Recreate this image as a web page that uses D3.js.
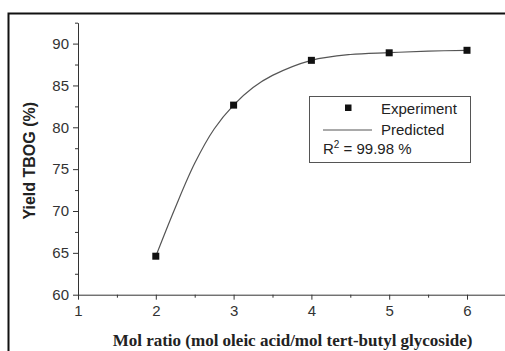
<!DOCTYPE html>
<html>
<head>
<meta charset="utf-8">
<script src="https://cdn.jsdelivr.net/npm/d3@7"></script>
<style>
  body { margin: 0; background: #fff; }
  svg { display: block; }
  .tick text { font-family: "Liberation Sans", Arial, sans-serif; font-size: 15px; fill: #333; }
  .axis path, .axis line { stroke: #333; }
</style>
</head>
<body>
<script>
// experiment points
let expX = [2, 3, 4, 5, 6];
let expY = [64.6, 82.65, 88.0, 88.9, 89.2];

// predicted curve
let predX = [2, 2.25, 2.5, 2.75, 3, 3.25, 3.5, 4, 4.5, 5, 5.5, 6];
let predY = [64.6, 70.4, 75.7, 79.8, 82.65, 84.75, 86.2, 88.0, 88.7, 88.92, 89.1, 89.2];

let xTicks = [1, 2, 3, 4, 5, 6];
let yTicks = [60, 65, 70, 75, 80, 85, 90];

let svgWidth = 505;
let svgHeight = 351;

let svg = d3.select("body")
  .append("svg")
  .attr("width", svgWidth)
  .attr("height", svgHeight);

// outer frame, runs off the right and bottom edge
svg.append("rect")
  .attr("x", 8.5)
  .attr("y", 13.5)
  .attr("width", 520)
  .attr("height", 360)
  .attr("fill", "none")
  .attr("stroke", "#111")
  .attr("stroke-width", 2);

let xScale = d3.scaleLinear()
  .domain([1, 6.5])
  .range([78, 78 + 5.5 * 77.8]);

let yScale = d3.scaleLinear()
  .domain([60, 92.5])
  .range([294.7, 294.7 - 32.5 * 8.37]);

// minor ticks
let xMinor = d3.range(1.5, 6.5, 1);
let yMinor = d3.range(62.5, 93, 5);

let xAxis = svg.append("g")
  .classed("axis", true)
  .attr("transform", `translate(0, ${yScale(60)})`)
  .call(d3.axisBottom(xScale).tickValues(xTicks).tickFormat(d3.format("d"))
    .tickSize(5).tickSizeOuter(0).tickPadding(3));
xAxis.selectAll(".tick text").attr("dy", "0.9em");

svg.append("g")
  .classed("axis", true)
  .attr("transform", `translate(0, ${yScale(60)})`)
  .call(d3.axisBottom(xScale).tickValues(xMinor).tickSize(3).tickFormat(""))
  .select(".domain").remove();

svg.append("g")
  .classed("axis", true)
  .attr("transform", `translate(${xScale(1)}, 0)`)
  .call(d3.axisLeft(yScale).tickValues(yTicks).tickSize(5).tickSizeOuter(0).tickPadding(4));

svg.append("g")
  .classed("axis", true)
  .attr("transform", `translate(${xScale(1)}, 0)`)
  .call(d3.axisLeft(yScale).tickValues(yMinor).tickSize(3).tickFormat(""))
  .select(".domain").remove();

// predicted curve
let predData = predX.map((x, i) => [x, predY[i]]);
let line = d3.line()
  .x(d => xScale(d[0]))
  .y(d => yScale(d[1]))
  .curve(d3.curveCatmullRom.alpha(0.5));

svg.append("path")
  .attr("d", line(predData))
  .attr("fill", "none")
  .attr("stroke", "#555")
  .attr("stroke-width", 1.2);

// experiment markers
svg.selectAll(".pt")
  .data(expX.map((x, i) => [x, expY[i]]))
  .enter()
  .append("rect")
  .attr("class", "pt")
  .attr("x", d => xScale(d[0]) - 3.5)
  .attr("y", d => yScale(d[1]) - 3.5)
  .attr("width", 7)
  .attr("height", 7)
  .attr("fill", "#111");

// legend
let legend = svg.append("g");
legend.append("rect")
  .attr("x", 309.5)
  .attr("y", 96.5)
  .attr("width", 161)
  .attr("height", 66)
  .attr("fill", "#fff")
  .attr("stroke", "#555")
  .attr("stroke-width", 1);
legend.append("rect")
  .attr("x", 345)
  .attr("y", 104.5)
  .attr("width", 6.5)
  .attr("height", 6.5)
  .attr("fill", "#111");
legend.append("text")
  .attr("x", 381)
  .attr("y", 114)
  .style("font-family", "Liberation Sans, Arial, sans-serif")
  .style("font-size", "15px")
  .attr("fill", "#222")
  .text("Experiment");
legend.append("line")
  .attr("x1", 323)
  .attr("x2", 372)
  .attr("y1", 130)
  .attr("y2", 130)
  .attr("stroke", "#555")
  .attr("stroke-width", 1);
legend.append("text")
  .attr("x", 381)
  .attr("y", 135)
  .style("font-family", "Liberation Sans, Arial, sans-serif")
  .style("font-size", "15px")
  .attr("fill", "#222")
  .text("Predicted");
let r2 = legend.append("text")
  .attr("x", 323)
  .attr("y", 154)
  .style("font-family", "Liberation Sans, Arial, sans-serif")
  .style("font-size", "15px")
  .attr("fill", "#222");
r2.append("tspan").text("R");
r2.append("tspan").attr("dy", -6).style("font-size", "10px").text("2");
r2.append("tspan").attr("dy", 6).text(" = 99.98 %");

// axis titles
svg.append("text")
  .attr("transform", `translate(35, ${yScale(76)}) rotate(-90)`)
  .attr("text-anchor", "middle")
  .style("font-family", "Liberation Sans, Arial, sans-serif")
  .style("font-size", "16px")
  .style("font-weight", "bold")
  .attr("fill", "#222")
  .text("Yield TBOG (%)");

svg.append("text")
  .attr("x", 292.5)
  .attr("y", 346)
  .attr("text-anchor", "middle")
  .style("font-family", "Liberation Serif, Times New Roman, serif")
  .style("font-size", "17px")
  .style("font-weight", "bold")
  .attr("fill", "#222")
  .text("Mol ratio (mol oleic acid/mol tert-butyl glycoside)");
</script>
</body>
</html>
